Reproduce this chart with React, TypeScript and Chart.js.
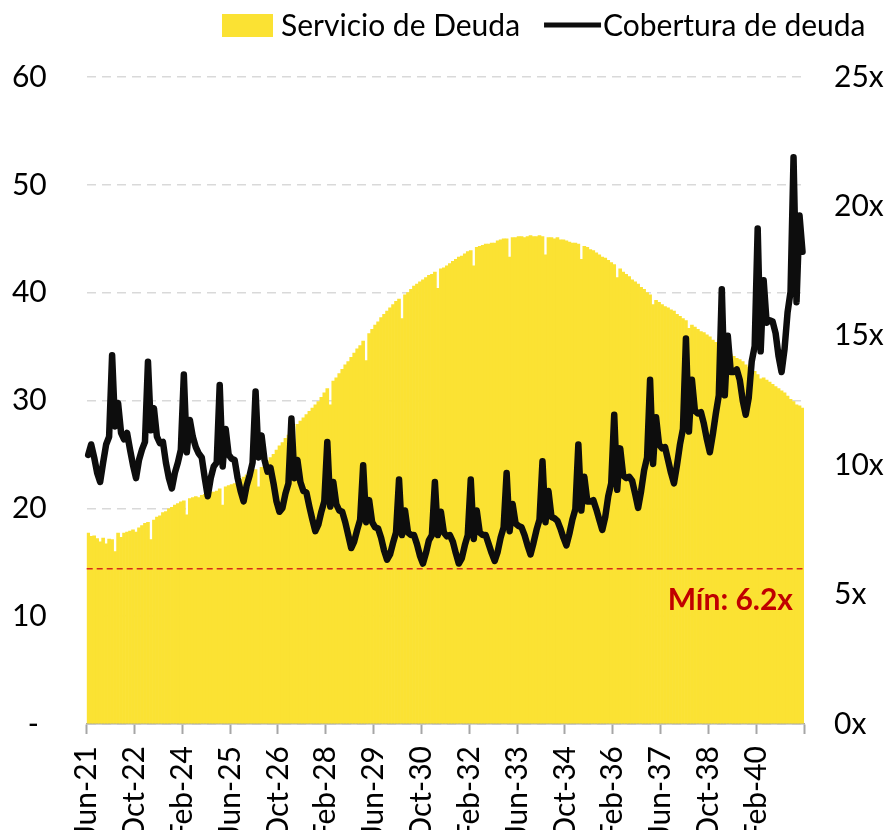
import React, { useEffect, useRef } from 'react';
import { Chart, registerables } from 'chart.js';

Chart.register(...registerables);

// ---------- data ----------
const MONTH_NAMES = ['Ene', 'Feb', 'Mar', 'Abr', 'May', 'Jun', 'Jul', 'Ago', 'Sep', 'Oct', 'Nov', 'Dic'];
const START_MONTH_INDEX = 5; // Jun
const START_YEAR = 21;
const MONTH_COUNT = 240;
const LABEL_STEP = 16;

const categories: string[] = [];
for (let k = 0; k < MONTH_COUNT; k++) {
  const m = (START_MONTH_INDEX + k) % 12;
  const y = START_YEAR + Math.floor((START_MONTH_INDEX + k) / 12);
  categories.push(`${MONTH_NAMES[m]}-${y}`);
}

// Servicio de Deuda (left axis)
const debtService: number[] = [
  17.7, 17.4, 17.45, 17.2, 16.9, 17.25, 16.7, 17.15, 17.1, 16.0, 17.7, 17.3,
  17.7, 17.8, 17.9, 18.0, 17.8, 18.2, 18.4, 18.6, 18.7, 17.1, 18.9, 19.2,
  19.3, 19.6, 19.7, 19.95, 20.1, 20.3, 20.45, 20.6, 20.7, 19.4, 20.9, 21.0,
  21.1, 21.0, 21.2, 21.3, 21.4, 21.5, 21.5, 21.6, 21.8, 20.3, 22.0, 22.1,
  22.2, 22.3, 22.5, 22.7, 22.9, 23.1, 23.3, 23.4, 23.6, 22.0, 23.8, 24.0,
  24.4, 24.7, 25.0, 25.4, 25.8, 26.1, 26.5, 26.8, 27.1, 25.6, 27.8, 28.1,
  28.4, 28.7, 29.0, 29.3, 29.6, 29.9, 30.3, 30.7, 31.1, 29.6, 31.8, 32.1,
  32.5, 32.9, 33.3, 33.6, 34.0, 34.4, 34.8, 35.1, 35.5, 33.7, 36.2, 36.6,
  37.0, 37.3, 37.7, 38.0, 38.3, 38.6, 38.9, 39.2, 39.4, 37.6, 39.8, 40.0,
  40.3, 40.6, 40.8, 41.0, 41.2, 41.4, 41.6, 41.7, 41.9, 40.4, 42.2, 42.3,
  42.5, 42.7, 42.9, 43.1, 43.3, 43.4, 43.6, 43.8, 43.9, 42.5, 44.2, 44.3,
  44.4, 44.5, 44.5, 44.6, 44.6, 44.8, 44.9, 45.0, 45.0, 43.3, 45.1, 45.1,
  45.2, 45.2, 45.1, 45.2, 45.3, 45.2, 45.2, 45.3, 45.2, 43.5, 45.1, 45.1,
  45.0, 45.1, 44.9, 44.9, 44.8, 44.7, 44.6, 44.6, 44.5, 43.1, 44.3, 44.2,
  44.0, 43.9, 43.7, 43.5, 43.3, 43.2, 43.0, 42.8, 42.6, 41.4, 42.2, 41.9,
  41.7, 41.5, 41.2, 41.0, 40.8, 40.5, 40.3, 40.0, 39.8, 38.9, 39.3, 39.1,
  38.9, 38.7, 38.6, 38.4, 38.3, 38.0, 37.8, 37.6, 37.4, 36.7, 37.0, 36.8,
  36.6, 36.4, 36.3, 36.1, 35.9, 35.6, 35.4, 35.2, 34.9, 34.4, 34.5, 34.3,
  34.1, 33.9, 33.8, 33.6, 33.3, 33.1, 32.9, 32.7, 32.4, 32.0, 32.1, 31.9,
  31.7, 31.5, 31.3, 31.1, 30.9, 30.7, 30.4, 30.1, 29.9, 29.6, 29.5, 29.3,
];

// Cobertura de deuda (right axis, x)
const coverage: number[] = [
  10.4, 10.8, 10.3, 9.7, 9.35, 10.1, 10.8, 11.1, 14.25, 11.5, 12.4, 11.25,
  11.0, 11.25, 10.6, 10.0, 9.5, 10.2, 10.6, 10.9, 14.0, 11.35, 12.2, 11.1,
  10.85, 10.9, 10.1, 9.5, 9.1, 9.7, 10.1, 10.6, 13.5, 10.5, 11.75, 11.1,
  10.7, 10.45, 10.3, 9.5, 8.8, 9.5, 9.95, 10.1, 13.1, 9.95, 11.4, 10.4,
  10.25, 10.2, 9.5, 9.0, 8.6, 9.2, 9.6, 10.1, 12.85, 10.3, 11.15, 10.2,
  9.75, 9.9, 9.3, 8.6, 8.2, 8.35, 8.9, 9.3, 11.8, 9.5, 10.2, 9.35,
  9.0, 8.95, 8.4, 7.9, 7.45, 7.7, 8.2, 8.6, 10.9, 8.4, 9.35, 8.5,
  8.25, 8.2, 7.8, 7.3, 6.8, 7.05, 7.5, 7.9, 10.0, 7.8, 8.65, 7.8,
  7.6, 7.55, 7.2, 6.7, 6.35, 6.55, 7.0, 7.4, 9.45, 7.3, 8.25, 7.4,
  7.3, 7.3, 6.95, 6.5, 6.2, 6.6, 7.1, 7.3, 9.35, 7.3, 8.2, 7.4,
  7.25, 7.3, 7.05, 6.6, 6.2, 6.4, 6.9, 7.3, 9.45, 7.15, 8.25, 7.4,
  7.3, 7.3, 6.95, 6.6, 6.3, 6.65, 7.2, 7.6, 9.7, 7.45, 8.5, 7.75,
  7.65, 7.6, 7.3, 6.9, 6.55, 7.0, 7.5, 7.9, 10.15, 7.8, 9.0, 8.0,
  7.95, 7.85, 7.55, 7.2, 6.9, 7.35, 7.9, 8.3, 10.8, 8.25, 9.55, 8.6,
  8.6, 8.65, 8.3, 7.9, 7.5, 8.0, 8.8, 9.3, 11.95, 9.05, 10.65, 9.6,
  9.5, 9.55, 9.4, 8.9, 8.35, 9.0, 9.8, 10.3, 13.3, 10.05, 11.85, 10.8,
  10.65, 10.7, 10.2, 9.7, 9.3, 10.0, 10.8, 11.4, 14.9, 11.3, 13.3, 12.1,
  12.0, 12.05, 11.6, 11.0, 10.5, 11.2, 12.0, 12.7, 16.8, 12.7, 15.0, 13.6,
  13.6, 13.7, 13.3, 12.5, 11.95, 12.6, 14.0, 14.6, 19.15, 14.4, 17.15, 15.5,
  15.6, 15.55, 15.1, 14.2, 13.6, 14.5, 15.9, 16.7, 21.9, 16.3, 19.65, 18.25,
];

const LEFT_MIN = 0;
const LEFT_MAX = 60;
const LEFT_STEP = 10;
const RIGHT_MIN = 0;
const RIGHT_MAX = 25;
const RIGHT_STEP = 5;

const MIN_LINE_VALUE = 6.0;
const MIN_LABEL = 'Mín: 6.2x';
const SERIES_BAR_LABEL = 'Servicio de Deuda';
const SERIES_LINE_LABEL = 'Cobertura de deuda';

// ---------- styles ----------
const FONT = 'Lato';
const FONT_SIZE = 30;
const BAR_COLOR = '#FBE233';
const LINE_COLOR = '#0d0d0d';
const GRID_COLOR = '#d9d9d9';
const AXIS_COLOR = '#a6a6a6';
const MIN_LINE_COLOR = '#d42a1a';
const MIN_TEXT_COLOR = '#c00000';

const overlayPlugin = {
  id: 'overlayPlugin',
  afterDatasetDraw(chart: any, args: any) {
    if (args.index !== 1) return;
    const { ctx, chartArea, scales } = chart;
    const y = scales.y1.getPixelForValue(MIN_LINE_VALUE);
    const xEnd = scales.x.getPixelForValue(categories.length - 1);
    ctx.save();
    ctx.strokeStyle = MIN_LINE_COLOR;
    ctx.lineWidth = 1.5;
    ctx.setLineDash([6, 4]);
    ctx.beginPath();
    ctx.moveTo(chartArea.left, y);
    ctx.lineTo(xEnd, y);
    ctx.stroke();
    ctx.setLineDash([]);
    ctx.font = `bold ${FONT_SIZE}px ${FONT}`;
    ctx.fillStyle = MIN_TEXT_COLOR;
    ctx.textAlign = 'right';
    ctx.textBaseline = 'alphabetic';
    ctx.fillText(MIN_LABEL, chartArea.right - 11, y + 41);
    ctx.restore();
  },
  afterDraw(chart: any) {
    const { ctx } = chart;
    ctx.save();
    ctx.font = `${FONT_SIZE}px ${FONT}`;
    const w1 = ctx.measureText(SERIES_BAR_LABEL).width;
    const boxW = 51;
    const gapBoxText = 8;
    const gapItems = 24;
    const lineLen = 57;
    const gapLineText = 2;
    let x = 222;
    const baseline = 36;
    const midY = 25;
    ctx.fillStyle = BAR_COLOR;
    ctx.fillRect(x, 14, boxW, 23);
    x += boxW + gapBoxText;
    ctx.fillStyle = '#000';
    ctx.textAlign = 'left';
    ctx.textBaseline = 'alphabetic';
    ctx.fillText(SERIES_BAR_LABEL, x, baseline);
    x += w1 + gapItems;
    ctx.strokeStyle = LINE_COLOR;
    ctx.lineWidth = 5;
    ctx.lineCap = 'butt';
    ctx.beginPath();
    ctx.moveTo(x, midY);
    ctx.lineTo(x + lineLen, midY);
    ctx.stroke();
    x += lineLen + gapLineText;
    ctx.fillText(SERIES_LINE_LABEL, x, baseline);
    ctx.restore();
  },
};

export default function App() {
  const canvasRef = useRef<HTMLCanvasElement | null>(null);

  useEffect(() => {
    document.body.style.margin = '0';
    document.body.style.overflow = 'hidden';
    const canvas = canvasRef.current;
    if (!canvas) return;
    const font = { family: FONT, size: FONT_SIZE };
    const chart = new Chart(canvas, {
      type: 'bar',
      data: {
        labels: categories,
        datasets: [
          {
            type: 'line',
            label: SERIES_LINE_LABEL,
            data: coverage,
            yAxisID: 'y1',
            borderColor: LINE_COLOR,
            backgroundColor: LINE_COLOR,
            borderWidth: 6.5,
            pointRadius: 0,
            pointHoverRadius: 0,
            tension: 0,
            borderJoinStyle: 'round',
            borderCapStyle: 'round',
            order: 0,
          } as any,
          {
            type: 'bar',
            label: SERIES_BAR_LABEL,
            data: debtService,
            yAxisID: 'y',
            backgroundColor: BAR_COLOR,
            borderWidth: 0,
            barPercentage: 1,
            categoryPercentage: 1,
            order: 2,
          } as any,
        ],
      },
      options: {
        animation: false,
        responsive: false,
        devicePixelRatio: 1,
        layout: { padding: { top: 77, left: 0, right: 0, bottom: 0 } },
        plugins: {
          legend: { display: false },
          tooltip: { enabled: false },
        },
        scales: {
          x: {
            type: 'category',
            offset: true,
            grid: {
              display: true,
              drawOnChartArea: false,
              drawTicks: true,
              tickLength: 10,
              offset: true,
              tickWidth: 2,
              tickColor: (ctx: any) =>
                ctx.index === undefined || ctx.index % LABEL_STEP === 0 ? AXIS_COLOR : 'rgba(0,0,0,0)',
            },
            border: { display: true, color: AXIS_COLOR, width: 1.5 },
            ticks: {
              autoSkip: false,
              minRotation: 90,
              maxRotation: 90,
              padding: 12,
              labelOffset: -1.5,
              color: '#000',
              font,
              callback: (_v: any, i: number) => (i % LABEL_STEP === 0 ? categories[i] : ''),
            },
            afterFit: (s: any) => {
              s.height = 106;
            },
          },
          y: {
            type: 'linear',
            position: 'left',
            min: LEFT_MIN,
            max: LEFT_MAX,
            grid: { color: GRID_COLOR, lineWidth: 1.5, drawTicks: false },
            border: { display: false, dash: [9, 6] },
            ticks: {
              stepSize: LEFT_STEP,
              padding: 40,
              color: '#000',
              font,
              callback: (v: any) => (Number(v) === 0 ? '- ' : String(v)),
            },
            afterFit: (s: any) => {
              s.width = 86.7;
            },
          },
          y1: {
            type: 'linear',
            position: 'right',
            min: RIGHT_MIN,
            max: RIGHT_MAX,
            grid: { drawOnChartArea: false, drawTicks: false },
            border: { display: false },
            ticks: {
              stepSize: RIGHT_STEP,
              padding: 30,
              color: '#000',
              font,
              callback: (v: any) => `${v}x`,
            },
            afterFit: (s: any) => {
              s.width = 80;
            },
          },
        },
      } as any,
      plugins: [overlayPlugin],
    });
    return () => chart.destroy();
  }, []);

  return (
    <div style={{ width: 884, height: 830 }}>
      <canvas ref={canvasRef} width={884} height={830} style={{ display: 'block' }} />
    </div>
  );
}
